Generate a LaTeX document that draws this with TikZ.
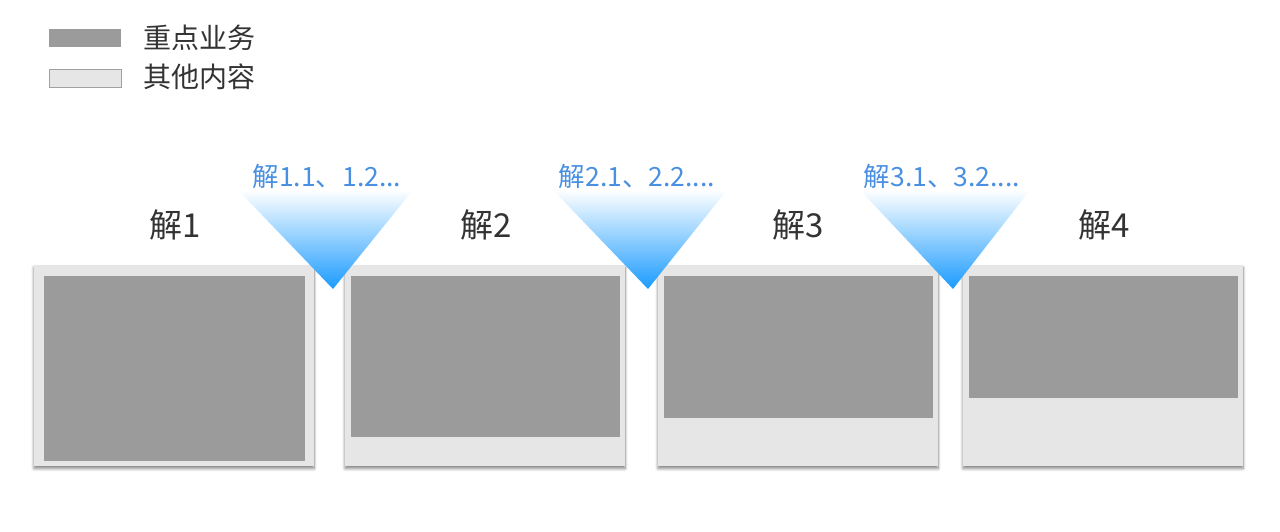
\documentclass[tikz,border=0pt]{standalone}
\usepackage{fontspec}
\setmainfont{Noto Sans CJK SC}
\usetikzlibrary{shadows.blur}
\definecolor{darkbox}{HTML}{9B9B9B}
\definecolor{lightbox}{HTML}{E6E6E6}
\definecolor{legendedge}{HTML}{A0A0A0}
\definecolor{txt}{HTML}{333333}
\definecolor{bluetxt}{HTML}{4A90E2}
\definecolor{tri}{HTML}{1A9BFF}
\tikzset{
  panel/.style={fill=lightbox, draw=none, blur shadow={shadow xshift=0pt, shadow yshift=-2.5pt, shadow blur steps=6, shadow blur radius=3pt, shadow opacity=50}},
  inner/.style={fill=darkbox, draw=none},
  title/.style={font=\fontsize{33}{36}\selectfont, text=txt, inner sep=0pt},
  sublabel/.style={font=\fontsize{26.5}{30}\selectfont, text=bluetxt, inner sep=0pt},
  legtext/.style={font=\fontsize{28}{30}\selectfont, text=txt, inner sep=0pt, anchor=west},
}
\begin{document}
\begin{tikzpicture}[x=1pt,y=-1pt]
\useasboundingbox (0,0) rectangle (1280,532);
% legend
\fill[darkbox] (49,29) rectangle (121,47);
\filldraw[fill=lightbox, draw=legendedge, line width=0.8pt] (49,69) rectangle (121,87);
\node[legtext] (l1) at (143,38) {重点业务};
\node[legtext] (l2) at (143,77) {其他内容};
% panels
\fill[panel] (34,265) rectangle (314,466);
\fill[inner] (44,276) rectangle (305,461);
\fill[panel] (345,265) rectangle (625,466);
\fill[inner] (351,276) rectangle (620,437);
\fill[panel] (658,265) rectangle (938,466);
\fill[inner] (664,276) rectangle (933,418);
\fill[panel] (963,265) rectangle (1243,466);
\fill[inner] (969,276) rectangle (1238,398);
% titles
\node[title] (t1) at (175,225) {解1};
\node[title] (t2) at (486,225) {解2};
\node[title] (t3) at (798,225) {解3};
\node[title] (t4) at (1104,225) {解4};
% triangles
\shade[top color=white, bottom color=tri] (238,190) -- (413,190) -- (333,289) -- cycle;
\shade[top color=white, bottom color=tri] (553,190) -- (727,190) -- (648,289) -- cycle;
\shade[top color=white, bottom color=tri] (860,190) -- (1030,190) -- (953,289) -- cycle;
% sublabels
\node[sublabel] (s1) at (327,176) {解1.1、1.2...};
\node[sublabel] (s2) at (637,176) {解2.1、2.2....};
\node[sublabel] (s3) at (942,176) {解3.1、3.2....};
\end{tikzpicture}
\end{document}
